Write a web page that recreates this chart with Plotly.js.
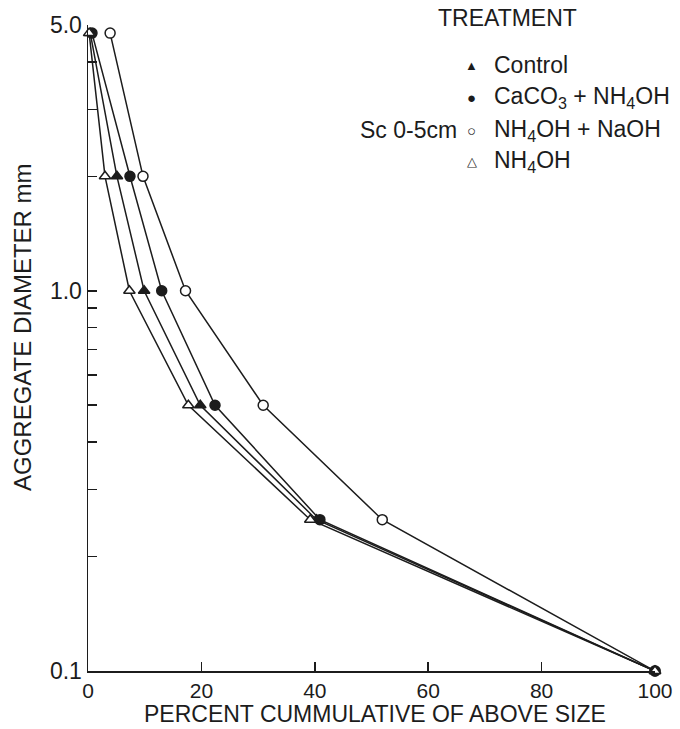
<!DOCTYPE html>
<html>
<head>
<meta charset="utf-8">
<script src="https://cdn.plot.ly/plotly-3.0.1.min.js"></script>
<style>
  html, body { margin: 0; padding: 0; background: #ffffff; }
  #chart { width: 680px; height: 729px; }
</style>
</head>
<body>
<div id="chart"></div>
<script>
// Aggregate diameter (mm) for each sieve class
const diameters = [4.76, 2.0, 1.0, 0.5, 0.25, 0.1];

// Percent cumulative of above size, per treatment
const control      = [0.4, 5.1, 9.9, 19.8, 40.3, 100];
const caco3Nh4oh   = [0.7, 7.4, 13.0, 22.4, 40.9, 100];
const nh4ohNaoh    = [3.9, 9.7, 17.2, 30.9, 51.9, 100];
const nh4oh        = [0.2, 3.0, 7.3, 17.7, 39.2, 100];

const seriesNames = ["Control", "CaCO3 + NH4OH", "NH4OH + NaOH", "NH4OH"];

// Y tick positions and labels
const yTickVals = [0.1, 1.0, 5];
const yTickText = ["0.1", "1.0", "5.0"];
const yMinorVals = [0.2, 0.3, 0.4, 0.5, 0.6, 0.7, 0.8, 0.9, 2, 3, 4];
const xTickVals = [0, 20, 40, 60, 80, 100];

const ink = "#1c1c1c";
const FONT = "Liberation Sans, Arial, sans-serif";

function trace(x, name, symbol, filled) {
  return {
    type: "scatter",
    mode: "lines+markers",
    x: x,
    y: diameters,
    name: name,
    cliponaxis: false,
    line: { color: ink, width: 1.5 },
    marker: {
      symbol: symbol,
      size: 10,
      color: filled ? ink : "#ffffff",
      line: { color: ink, width: 1.5 }
    },
    showlegend: false
  };
}

const data = [
  trace(nh4ohNaoh, seriesNames[2], "circle", false),
  trace(caco3Nh4oh, seriesNames[1], "circle", true),
  trace(control, seriesNames[0], "triangle-up", true),
  trace(nh4oh, seriesNames[3], "triangle-up", false)
];

// legend placement helpers (paper coordinates)
const legMarkX = 0.677, legTextX = 0.7125;
const legRows = [0.938, 0.887, 0.837, 0.788];

const annotations = [
  { text: "TREATMENT", x: 0.74, y: 1.011, xanchor: "center", yanchor: "middle", font: { size: 23 } },
  { text: "\u25B2", x: legMarkX, y: legRows[0], xanchor: "center", yanchor: "middle", font: { size: 13 } },
  { text: "Control", x: legTextX, y: legRows[0], xanchor: "left", yanchor: "middle", font: { size: 23 } },
  { text: "\u25CF", x: legMarkX, y: legRows[1], xanchor: "center", yanchor: "middle", font: { size: 15 } },
  { text: "CaCO<sub>3</sub> + NH<sub>4</sub>OH", x: legTextX, y: legRows[1], xanchor: "left", yanchor: "middle", font: { size: 23 } },
  { text: "Sc 0-5cm", x: 0.655, y: legRows[2], xanchor: "right", yanchor: "middle", font: { size: 23 } },
  { text: "\u25CB", x: legMarkX, y: legRows[2], xanchor: "center", yanchor: "middle", font: { size: 15 } },
  { text: "NH<sub>4</sub>OH + NaOH", x: legTextX, y: legRows[2], xanchor: "left", yanchor: "middle", font: { size: 23 } },
  { text: "\u25B3", x: legMarkX, y: legRows[3], xanchor: "center", yanchor: "middle", font: { size: 13 } },
  { text: "NH<sub>4</sub>OH", x: legTextX, y: legRows[3], xanchor: "left", yanchor: "middle", font: { size: 23 } },
  { text: "AGGREGATE DIAMETER mm", x: -0.1164, y: 0.5325, xanchor: "center", yanchor: "middle", textangle: -90, font: { size: 24 } },
  { text: "PERCENT CUMMULATIVE OF ABOVE SIZE", x: 0.507, y: -0.0673, xanchor: "center", yanchor: "middle", borderpad: 0, font: { size: 23 } }
].map(a => Object.assign({ xref: "paper", yref: "paper", showarrow: false }, a,
  { font: Object.assign({ family: FONT, color: ink }, a.font) }));

const layout = {
  width: 680,
  height: 729,
  margin: { l: 88, r: 25, t: 25, b: 58, pad: 0 },
  paper_bgcolor: "#ffffff",
  plot_bgcolor: "#ffffff",
  font: { family: FONT, color: ink, size: 23 },
  showlegend: false,
  xaxis: {
    range: [0, 100],
    tickmode: "array",
    tickvals: xTickVals,
    ticks: "inside",
    ticklen: 9,
    tickwidth: 1.5,
    tickcolor: ink,
    showline: true,
    linecolor: ink,
    linewidth: 1.5,
    showgrid: false,
    zeroline: false,
    tickfont: { size: 21 }
  },
  yaxis: {
    type: "log",
    range: [Math.log10(0.1), Math.log10(5)],
    tickmode: "array",
    tickvals: yTickVals,
    ticktext: yTickText,
    ticks: "inside",
    ticklen: 9,
    tickwidth: 1.5,
    tickcolor: ink,
    showline: true,
    linecolor: ink,
    linewidth: 1.5,
    showgrid: false,
    zeroline: false,
    tickfont: { size: 23 },
    minor: {
      tickmode: "array",
      tickvals: yMinorVals,
      ticks: "inside",
      ticklen: 9,
      tickwidth: 1.5,
      tickcolor: ink,
      showgrid: false
    }
  },
  annotations: annotations
};

Plotly.newPlot("chart", data, layout, { displayModeBar: false, staticPlot: true });
</script>
</body>
</html>
